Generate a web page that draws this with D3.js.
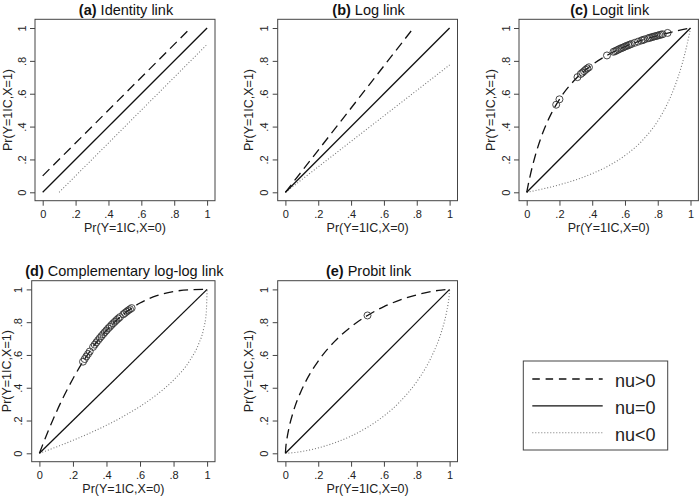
<!DOCTYPE html>
<html>
<head>
<meta charset="utf-8">
<script src="https://cdn.jsdelivr.net/npm/d3@7"></script>
<style>
  html, body { margin: 0; padding: 0; background: #fff; }
  svg { display: block; font-family: "Liberation Sans", Arial, Helvetica, sans-serif; }
</style>
</head>
<body>
<svg id="chart" width="700" height="499"></svg>
<script>
// ---------------- data ----------------
const tickValues = [0, 0.2, 0.4, 0.6, 0.8, 1];
const tickLabels = ["0", ".2", ".4", ".6", ".8", "1"];
const xTitle = "Pr(Y=1IC,X=0)";
const yTitle = "Pr(Y=1IC,X=1)";
const legendLabels = ["nu>0", "nu=0", "nu<0"];

// (a) identity link
const aPos  = [[0, 0.1], [0.89, 0.99]];
const aZero = [[0, 0], [1, 1]];
const aNeg  = [[0.1, 0], [1, 0.9]];
// (b) log link
const bPos  = [[0, 0], [0.78, 1]];
const bZero = [[0, 0], [1, 1]];
const bNeg  = [[0, 0], [1, 0.775]];
// (c) logit link
const cPos  = [[0,0],[0.01,0.050],[0.02,0.096],[0.05,0.215],[0.1,0.367],[0.15,0.479],[0.2,0.566],[0.3,0.691],[0.4,0.776],[0.5,0.839],[0.6,0.887],[0.7,0.924],[0.8,0.954],[0.9,0.979],[0.95,0.990],[1,1]];
const cZero = [[0, 0], [1, 1]];
const cNeg  = [[0,0],[0.05,0.010],[0.1,0.021],[0.2,0.046],[0.3,0.076],[0.4,0.114],[0.5,0.161],[0.6,0.224],[0.7,0.309],[0.8,0.434],[0.85,0.521],[0.9,0.634],[0.95,0.785],[0.98,0.904],[0.99,0.950],[1,1]];
const cPoints = [[0.18,0.533],[0.20,0.566],[0.31,0.701],[0.33,0.720],[0.34,0.728],[0.35,0.737],[0.36,0.746],[0.37,0.754],[0.38,0.761],[0.49,0.833],[0.53,0.855],[0.54,0.859],[0.55,0.864],[0.56,0.869],[0.57,0.874],[0.58,0.878],[0.59,0.882],[0.60,0.887],[0.61,0.891],[0.62,0.895],[0.63,0.899],[0.64,0.903],[0.66,0.910],[0.68,0.917],[0.70,0.924],[0.71,0.927],[0.72,0.931],[0.74,0.937],[0.75,0.940],[0.76,0.943],[0.77,0.946],[0.78,0.949],[0.79,0.951],[0.80,0.954],[0.81,0.957],[0.82,0.960],[0.83,0.962],[0.86,0.970]];
// (d) complementary log-log link
const dPos  = [[0,0],[0.02,0.053],[0.05,0.130],[0.1,0.249],[0.15,0.357],[0.2,0.455],[0.3,0.621],[0.4,0.750],[0.5,0.848],[0.6,0.917],[0.7,0.962],[0.8,0.987],[0.9,0.998],[1,1]];
const dZero = [[0, 0], [1, 1]];
const dNeg  = [[0,0],[0.1,0.038],[0.2,0.079],[0.3,0.123],[0.4,0.171],[0.5,0.225],[0.6,0.286],[0.7,0.358],[0.8,0.447],[0.9,0.571],[0.95,0.668],[0.98,0.763],[0.995,0.858],[1,1]];
const dPoints = [[0.26,0.559],[0.27,0.575],[0.28,0.591],[0.29,0.606],[0.30,0.621],[0.32,0.649],[0.33,0.663],[0.34,0.677],[0.35,0.690],[0.36,0.703],[0.37,0.715],[0.38,0.727],[0.39,0.739],[0.40,0.750],[0.41,0.762],[0.42,0.772],[0.43,0.783],[0.44,0.793],[0.45,0.803],[0.46,0.813],[0.47,0.822],[0.48,0.831],[0.50,0.848],[0.51,0.856],[0.52,0.864],[0.53,0.872],[0.54,0.879],[0.55,0.886]];
// (e) probit link
const ePos  = [[0,0],[0.002,0.030],[0.01,0.092],[0.02,0.146],[0.05,0.260],[0.1,0.389],[0.15,0.486],[0.2,0.563],[0.3,0.683],[0.4,0.772],[0.5,0.841],[0.6,0.895],[0.7,0.936],[0.8,0.967],[0.9,0.989],[0.95,0.996],[1,1]];
const eZero = [[0, 0], [1, 1]];
const eNeg  = [[0,0],[0.05,0.004],[0.1,0.011],[0.2,0.033],[0.3,0.064],[0.4,0.105],[0.5,0.159],[0.6,0.228],[0.7,0.317],[0.8,0.437],[0.85,0.514],[0.9,0.611],[0.95,0.740],[0.98,0.854],[0.99,0.908],[0.998,0.970],[1,1]];
const ePoints = [[0.5, 0.841]];

// ---------------- layout ----------------
const panels = [
  { tag: "(a)", name: " Identity link", box: [35, 19.3, 215, 200.7], ytOff: 28, pos: aPos, zero: aZero, neg: aNeg, pts: [] },
  { tag: "(b)", name: " Log link", box: [277.7, 19.3, 457.5, 200.7], ytOff: 29, pos: bPos, zero: bZero, neg: bNeg, pts: [] },
  { tag: "(c)", name: " Logit link", box: [519, 19.3, 698.4, 200.7], ytOff: 29, pos: cPos, zero: cZero, neg: cNeg, pts: cPoints },
  { tag: "(d)", name: " Complementary log-log link", box: [31.7, 280.7, 215, 461.7], ytOff: 25, pos: dPos, zero: dZero, neg: dNeg, pts: dPoints },
  { tag: "(e)", name: " Probit link", box: [277.7, 280.7, 457.5, 461.7], ytOff: 29, pos: ePos, zero: eZero, neg: eNeg, pts: ePoints }
];

const styles = {
  pos:  { stroke: "#111", width: 1.3, dash: "9.5,5.5" },
  zero: { stroke: "#111", width: 1.3, dash: null },
  neg:  { stroke: "#777", width: 1.1, dash: "1,2" }
};
const legendDash = ["7.5,5.8", null, "1,2"];

const svg = d3.select("#chart");
const textColor = "#222";

panels.forEach(p => {
  const [l, t, r, b] = p.box;
  const x = d3.scaleLinear().domain([0, 1]).range([l + 7.7, r - 7.9]);
  const y = d3.scaleLinear().domain([0, 1]).range([b - 8.4, t + 8.7]);
  const g = svg.append("g");

  // x axis
  const xa = g.append("g").attr("transform", `translate(0,${b})`)
    .call(d3.axisBottom(x).tickValues(tickValues).tickFormat((d, i) => tickLabels[i]).tickSize(5).tickPadding(4.2));
  xa.select(".domain").remove();
  xa.selectAll("line").attr("stroke", "#444");
  xa.selectAll("text").attr("font-size", 11).attr("fill", textColor).attr("font-family", null);

  // y axis
  const ya = g.append("g").attr("transform", `translate(${l},0)`)
    .call(d3.axisLeft(y).tickValues(tickValues).tickFormat((d, i) => tickLabels[i]).tickSize(5));
  ya.select(".domain").remove();
  ya.selectAll("line").attr("stroke", "#444");
  ya.selectAll("text")
    .attr("font-size", 11).attr("fill", textColor).attr("font-family", null)
    .attr("x", 0).attr("dy", null)
    .attr("text-anchor", "middle")
    .attr("transform", "translate(-9.5,0) rotate(-90)");

  // box
  g.append("rect").attr("x", l).attr("y", t).attr("width", r - l).attr("height", b - t)
    .attr("fill", "none").attr("stroke", "#444").attr("stroke-width", 1);

  // curves
  const line = d3.line().x(d => x(d[0])).y(d => y(d[1])).curve(d3.curveMonotoneX);
  [["neg", p.neg], ["zero", p.zero], ["pos", p.pos]].forEach(([k, data]) => {
    const s = styles[k];
    g.append("path").datum(data).attr("d", line)
      .attr("fill", "none").attr("stroke", s.stroke).attr("stroke-width", s.width)
      .attr("stroke-dasharray", s.dash);
  });

  // circles
  g.selectAll("circle.pt").data(p.pts).join("circle").attr("class", "pt")
    .attr("cx", d => x(d[0])).attr("cy", d => y(d[1])).attr("r", 3.5)
    .attr("fill", "none").attr("stroke", "#333").attr("stroke-width", 0.9);

  // title
  const cx = (l + r) / 2;
  const title = g.append("text").attr("x", cx + 1).attr("y", t - 4.5)
    .attr("text-anchor", "middle").attr("font-size", 14.5).attr("fill", "#111");
  title.append("tspan").attr("font-weight", "bold").text(p.tag);
  title.append("tspan").text(p.name);

  // x title
  g.append("text").attr("x", cx).attr("y", b + 31)
    .attr("text-anchor", "middle").attr("font-size", 12.5).attr("fill", textColor).text(xTitle);

  // y title
  const cy = (t + b) / 2;
  g.append("text").attr("transform", `translate(${l - p.ytOff + 4.5},${cy}) rotate(-90)`)
    .attr("text-anchor", "middle").attr("font-size", 12.5).attr("fill", textColor).text(yTitle);
});

// ---------------- legend ----------------
const leg = svg.append("g");
leg.append("rect").attr("x", 523.3).attr("y", 361).attr("width", 144.4).attr("height", 89)
  .attr("fill", "none").attr("stroke", "#444").attr("stroke-width", 1);
const legY = d3.scalePoint().domain(legendLabels).range([379, 432.7]);
const legStyles = [styles.pos, styles.zero, styles.neg];
legendLabels.forEach((lab, i) => {
  const s = legStyles[i];
  const yy = legY(lab);
  leg.append("line").attr("x1", 532.3).attr("x2", 602.7).attr("y1", yy).attr("y2", yy)
    .attr("stroke", s.stroke).attr("stroke-width", s.width).attr("stroke-dasharray", legendDash[i]);
  leg.append("text").attr("x", 615).attr("y", yy + 8.3).attr("font-size", 18).attr("fill", textColor).text(lab);
});
</script>
</body>
</html>
